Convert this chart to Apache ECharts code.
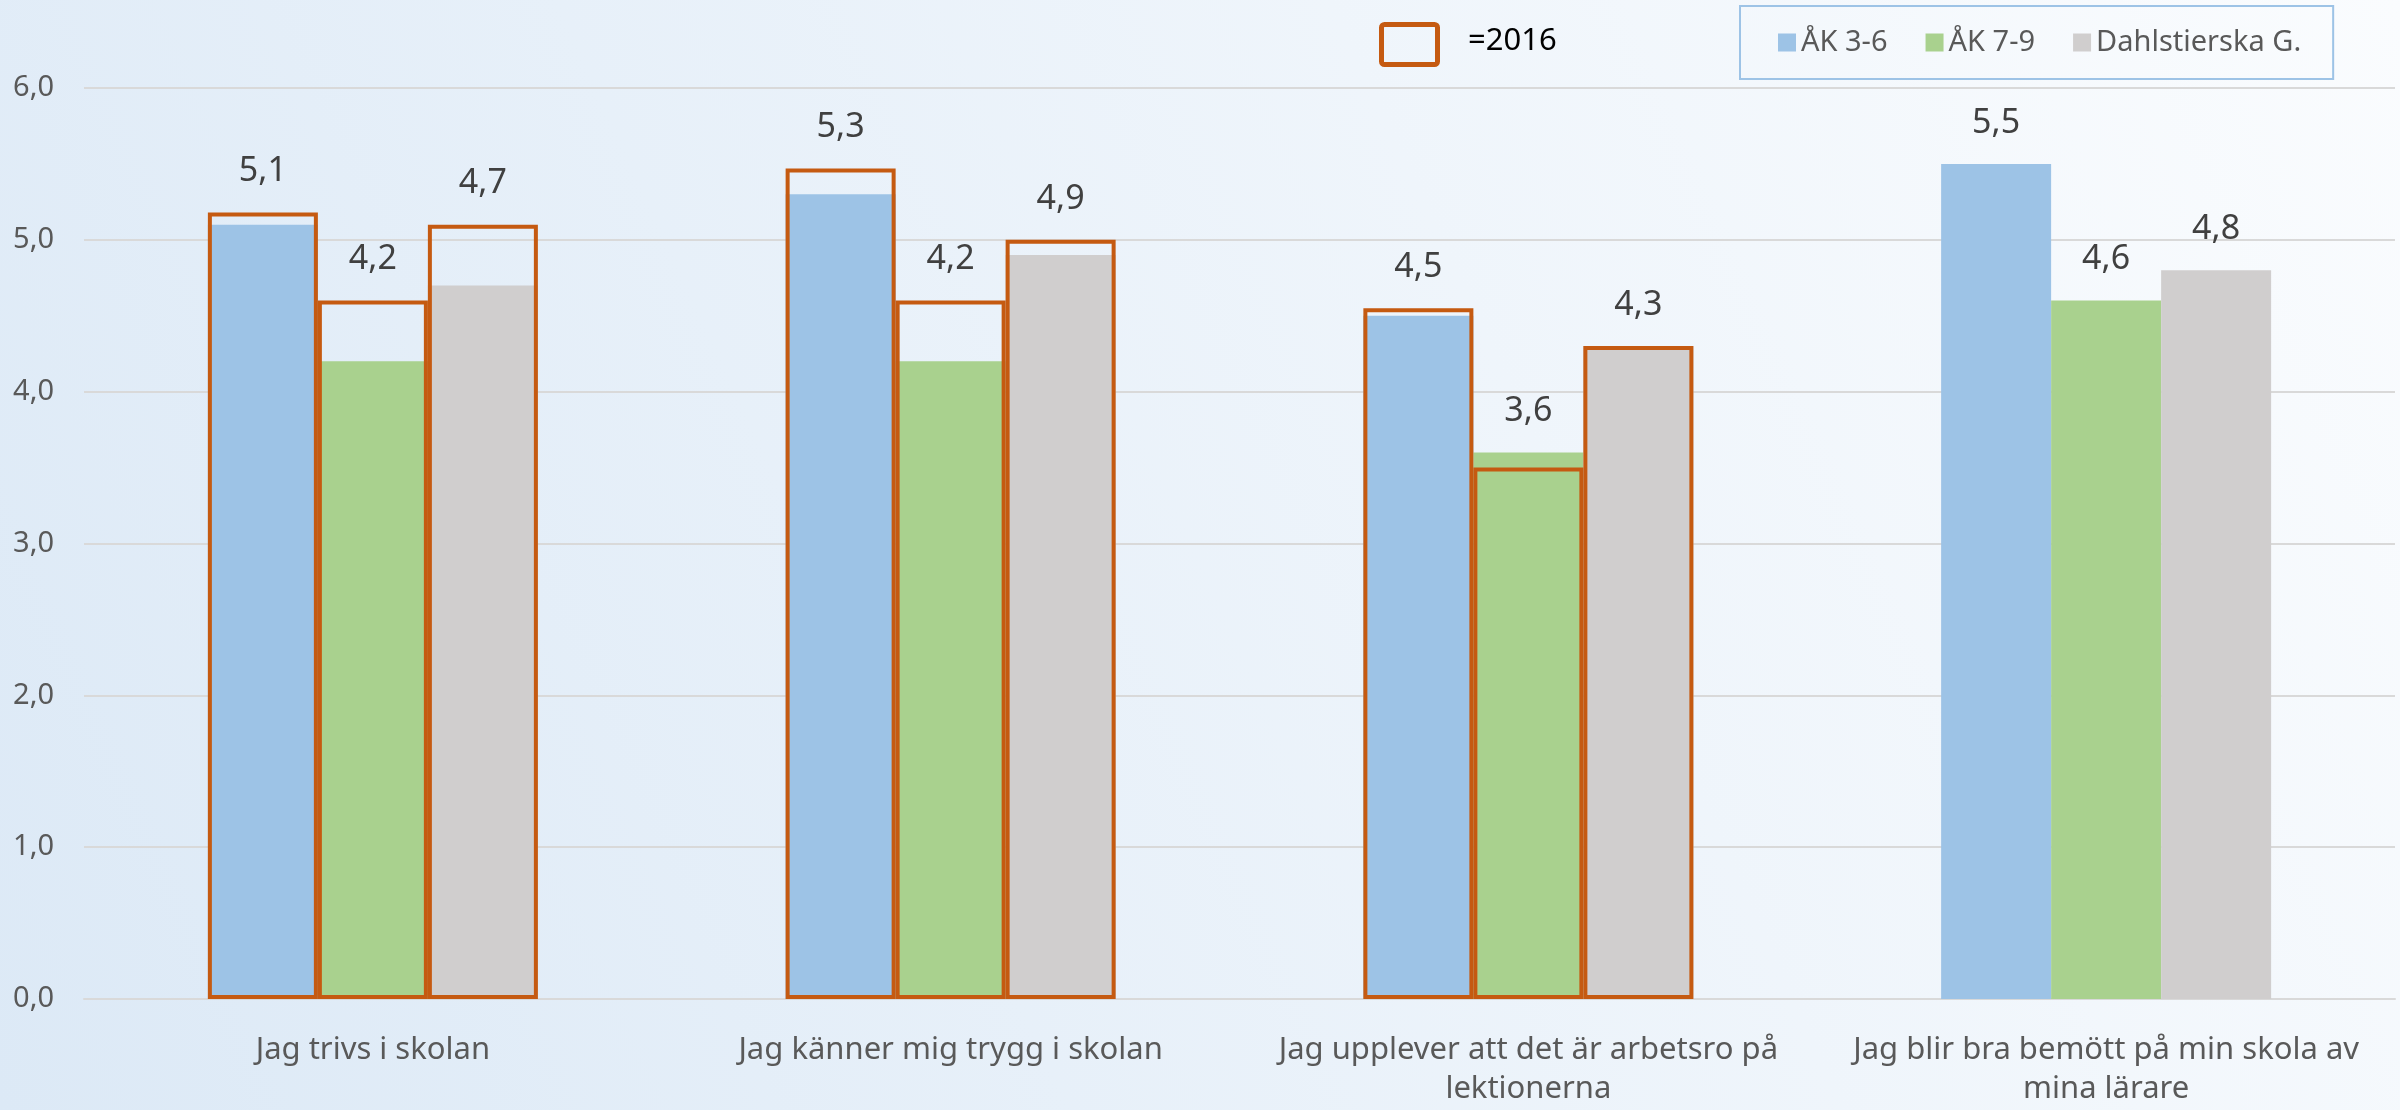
<!DOCTYPE html>
<html>
  <head>
    <meta charset="utf-8" />
    <title>Enkät</title>
    <script src="https://cdn.jsdelivr.net/npm/echarts@6/dist/echarts.min.js"></script>
    <style>
      html, body { margin: 0; padding: 0; }
      #main { width: 2400px; height: 1110px; }
    </style>
  </head>
  <body>
    <div id="main"></div>
    <script type="text/javascript">
      // kategorier och värden
      var categories = [
        'Jag trivs i skolan',
        'Jag känner mig trygg i skolan',
        'Jag upplever att det är arbetsro på\nlektionerna',
        'Jag blir bra bemött på min skola av\nmina lärare'
      ]
      var seriesNames = ['ÅK 3-6', 'ÅK 7-9', 'Dahlstierska G.']
      var ak36 = [5.1, 5.3, 4.5, 5.5]
      var ak79 = [4.2, 4.2, 3.6, 4.6]
      var dahl = [4.7, 4.9, 4.3, 4.8]
      // 2016 (orange ramar), saknas för sista frågan
      var ak36_2016 = [5.18, 5.47, 4.55, null]
      var ak79_2016 = [4.6, 4.6, 3.5, null]
      var dahl_2016 = [5.1, 5.0, 4.3, null]
      var yTicks = [0, 1, 2, 3, 4, 5, 6]

      var colors = ['#9DC3E6', '#A9D18E', '#D0CECE']
      var outline = '#C55A11'
      var font = 'Noto Sans'

      var current = [ak36, ak79, dahl]
      var previous = [ak36_2016, ak79_2016, dahl_2016]

      function fmt(v) {
        return v.toFixed(1).replace('.', ',')
      }

      var myChart = echarts.init(document.getElementById('main'))

      var series = []
      for (var i = 0; i < 3; i++) {
        series.push({
          name: seriesNames[i],
          type: 'bar',
          xAxisIndex: 0,
          data: current[i],
          barWidth: 110,
          barGap: '0%',
          itemStyle: { color: colors[i] },
          z: 2
        })
      }
      for (var j = 0; j < 3; j++) {
        series.push({
          name: '2016 ' + seriesNames[j],
          type: 'bar',
          xAxisIndex: 1,
          data: previous[j],
          barWidth: 110,
          barGap: '0%',
          itemStyle: {
            color: 'rgba(0,0,0,0)',
            borderColor: outline,
            borderWidth: 4
          },
          z: 3
        })
      }
      // osynliga staplar som bär etiketterna ovanför den högsta av de två
      for (var k = 0; k < 3; k++) {
        (function (k) {
          var tops = current[k].map(function (v, n) {
            var p = previous[k][n]
            return p != null ? Math.max(v, p) : v
          })
          series.push({
            name: 'lbl ' + seriesNames[k],
            type: 'bar',
            xAxisIndex: 2,
            data: tops,
            barWidth: 110,
            barGap: '0%',
            itemStyle: { color: 'rgba(0,0,0,0)' },
            silent: true,
            label: {
              show: true,
              position: 'top',
              distance: 24,
              fontFamily: font,
              fontSize: 34,
              color: '#404040',
              formatter: function (p) {
                return fmt(current[k][p.dataIndex])
              }
            },
            z: 4
          })
        })(k)
      }

      var hiddenAxis = {
        type: 'category',
        data: categories,
        show: false
      }

      var option = {
        animation: false,
        backgroundColor: new echarts.graphic.LinearGradient(0, 1, 1, 0, [
          { offset: 0, color: '#DCE9F6' },
          { offset: 1, color: '#FAFCFE' }
        ]),
        grid: {
          left: 84,
          right: 5,
          top: 88,
          bottom: 111,
          containLabel: false
        },
        legend: {
          data: seriesNames,
          left: 1740,
          top: 6,
          padding: [22, 32, 22, 38],
          borderColor: '#9DC3E6',
          borderWidth: 2,
          icon: 'rect',
          itemWidth: 18,
          itemHeight: 18,
          itemGap: 38,
          textStyle: {
            fontFamily: font,
            fontSize: 29,
            color: '#595959'
          }
        },
        graphic: [
          {
            type: 'rect',
            left: 1379,
            top: 22,
            shape: { width: 56, height: 40, r: 3 },
            style: { fill: 'rgba(0,0,0,0)', stroke: outline, lineWidth: 5 }
          },
          {
            type: 'text',
            left: 1468,
            top: 26,
            style: {
              text: '=2016',
              fontFamily: font,
              fontSize: 31,
              fill: '#000000'
            }
          }
        ],
        xAxis: [
          {
            type: 'category',
            data: categories,
            axisTick: { show: false },
            axisLine: { lineStyle: { color: '#D9D9D9', width: 2 } },
            axisLabel: {
              interval: 0,
              margin: 32,
              fontFamily: font,
              fontSize: 31,
              lineHeight: 39,
              color: '#595959'
            }
          },
          Object.assign({}, hiddenAxis),
          Object.assign({}, hiddenAxis)
        ],
        yAxis: {
          type: 'value',
          min: yTicks[0],
          max: yTicks[yTicks.length - 1],
          interval: 1,
          axisLine: { show: false },
          axisTick: { show: false },
          splitLine: { lineStyle: { color: '#D9D9D9', width: 2 } },
          axisLabel: {
            margin: 30,
            fontFamily: font,
            fontSize: 29,
            color: '#595959',
            formatter: function (v) { return fmt(v) }
          }
        },
        series: series
      }

      myChart.setOption(option)
    </script>
  </body>
</html>
